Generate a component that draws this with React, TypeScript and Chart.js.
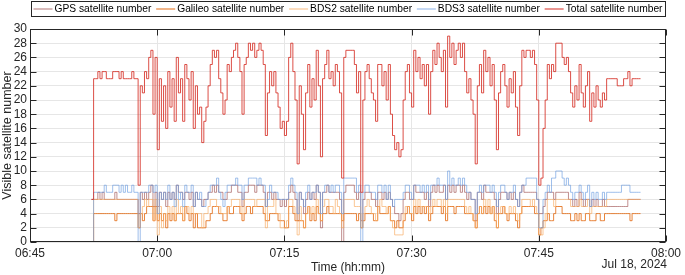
import { useEffect, useRef } from "react";
import { Chart, registerables } from "chart.js";

Chart.register(...registerables);

// ---------------- data ----------------
const SERIES_LABELS = [
  "GPS satellite number",
  "Galileo satellite number",
  "BDS2 satellite number",
  "BDS3 satellite number",
  "Total satellite number",
];
const X_TICK_LABELS = ["06:45", "07:00", "07:15", "07:30", "07:45", "08:00"];
const X_TICK_STEP = 15; // minutes between labels
const X_MAX = 75; // minutes after 06:45
const Y_MAX = 30;
const Y_STEP = 2;
const X_TITLE = "Time (hh:mm)";
const Y_TITLE = "Visible satellite number";
const DATE_LABEL = "Jul 18, 2024";
// samples: minutes after 06:45, every 15 s
const SAMPLE_START = 7.25;
const SAMPLE_STEP = 0.25;

const totalSats = [
  6, 23, 23,
  24, 23, 24, 24, 23, 23, 23, 24, 24, 24, 23, 24, 23, 23, 23, 23, 24, 23, 23, 8,
  22, 21, 24, 23, 26, 27, 18, 26, 13, 23, 17, 22, 16, 24, 19, 23, 17, 26, 21, 23,
  17, 25, 23, 20, 24, 16, 22, 18, 19, 14, 17, 19, 22, 25, 27, 26, 27, 23, 21, 18,
  20, 25, 24, 26, 27, 28, 26, 24, 18, 25, 26, 28, 27, 28, 26, 27, 28, 27, 25, 15,
  21, 24, 22, 24, 21, 19, 16, 17, 15, 17, 26, 28, 24, 20, 11, 22, 18, 13, 21, 25,
  19, 23, 20, 27, 22, 12, 23, 25, 27, 23, 24, 22, 25, 24, 21, 9, 26, 27, 27, 27,
  27, 25, 21, 24, 7, 20, 24, 25, 23, 21, 20, 17, 25, 25, 22, 24, 20, 25, 18, 15,
  13, 14, 12, 13, 20, 24, 25, 21, 19, 27, 24, 26, 23, 25, 22, 25, 18, 24, 27, 25,
  28, 26, 24, 27, 19, 29, 26, 28, 25, 27, 28, 26, 28, 24, 21, 23, 20, 18, 11, 22,
  25, 21, 27, 24, 26, 22, 25, 20, 13, 21, 24, 25, 22, 19, 23, 21, 24, 19, 15, 22,
  27, 26, 27, 27, 26, 27, 25, 20, 8, 9, 16, 20, 25, 23, 25, 24, 28, 28, 28, 26,
  25, 26, 24, 21, 19, 22, 20, 25, 21, 19, 22, 24, 17, 21, 19, 22, 20, 19, 21, 20,
  23, 23, 23, 23, 23, 22, 22, 22, 23, 23, 24, 22, 23, 23, 23, 23,
  23,
];

const gpsSats = [
  6, 6, 6,
  7, 6, 7, 6, 6, 6, 6, 6, 7, 6, 6, 6, 6, 6, 6, 6, 6, 6, 6, 4,
  7, 6, 7, 6, 7, 8, 5, 7, 5, 7, 6, 7, 5, 7, 6, 7, 6, 8, 7, 7,
  6, 7, 7, 6, 7, 5, 7, 6, 6, 5, 6, 6, 7, 7, 8, 7, 8, 7, 7, 6,
  6, 7, 7, 8, 8, 8, 7, 7, 5, 7, 7, 8, 8, 8, 7, 8, 8, 8, 7, 5,
  7, 7, 6, 7, 6, 6, 5, 6, 5, 6, 7, 8, 7, 6, 3, 7, 6, 4, 6, 7,
  6, 7, 6, 8, 7, 2, 7, 7, 8, 7, 7, 7, 7, 7, 6, 0, 7, 8, 8, 8,
  8, 7, 6, 7, 3, 6, 7, 7, 7, 6, 6, 5, 7, 7, 6, 7, 6, 7, 6, 5,
  4, 4, 3, 4, 6, 7, 7, 6, 6, 8, 7, 7, 7, 7, 6, 7, 5, 7, 8, 7,
  8, 7, 7, 8, 6, 8, 7, 8, 7, 8, 8, 7, 8, 7, 6, 7, 6, 6, 3, 7,
  7, 6, 8, 7, 7, 7, 7, 6, 4, 6, 7, 7, 7, 6, 7, 6, 7, 6, 5, 7,
  8, 7, 7, 7, 7, 7, 7, 6, 4, 4, 5, 6, 7, 7, 7, 6, 7, 7, 7, 7,
  7, 7, 6, 6, 5, 6, 5, 7, 6, 5, 6, 6, 5, 6, 5, 6, 5, 5, 6, 5,
  5, 5, 5, 5, 5, 5, 5, 5, 5, 5, 6, 6, 6, 6, 6, 6,
  6,
];

const galileoSats = [
  0, 4, 4,
  4, 4, 4, 4, 4, 4, 4, 4, 3, 4, 4, 4, 4, 4, 4, 4, 4, 4, 4, 2,
  4, 3, 4, 5, 5, 5, 3, 5, 3, 4, 3, 4, 2, 4, 3, 4, 3, 4, 4, 4,
  3, 5, 4, 3, 4, 2, 4, 2, 2, 2, 2, 3, 3, 4, 5, 5, 5, 4, 4, 3,
  3, 5, 4, 4, 5, 5, 5, 4, 3, 4, 5, 5, 4, 5, 5, 5, 5, 5, 4, 3,
  3, 4, 4, 4, 4, 3, 3, 3, 2, 2, 5, 5, 4, 3, 3, 3, 3, 2, 4, 5,
  3, 4, 3, 5, 4, 3, 4, 4, 5, 4, 4, 4, 4, 4, 4, 3, 4, 4, 4, 4,
  4, 4, 3, 4, 2, 3, 4, 4, 4, 4, 3, 3, 5, 4, 4, 4, 4, 5, 3, 3,
  2, 3, 2, 2, 3, 4, 5, 4, 3, 5, 4, 5, 4, 5, 4, 5, 3, 4, 5, 5,
  5, 5, 4, 5, 3, 5, 5, 5, 4, 5, 5, 5, 5, 4, 4, 4, 4, 3, 2, 4,
  5, 4, 5, 4, 5, 4, 5, 3, 2, 4, 4, 5, 4, 3, 4, 4, 4, 3, 2, 4,
  5, 5, 5, 5, 5, 5, 4, 4, 1, 2, 3, 3, 4, 3, 3, 4, 5, 5, 5, 4,
  4, 4, 4, 3, 3, 4, 3, 4, 3, 3, 4, 4, 3, 3, 3, 4, 4, 3, 3, 4,
  4, 4, 4, 4, 4, 4, 4, 4, 4, 4, 4, 3, 4, 4, 4, 4,
  4,
];

const bds2Sats = [
  0, 6, 6,
  6, 6, 6, 6, 6, 6, 6, 6, 6, 6, 6, 6, 6, 6, 6, 6, 6, 6, 6, 2,
  4, 5, 6, 5, 6, 6, 3, 6, 1, 5, 2, 4, 3, 5, 4, 5, 3, 6, 4, 5,
  3, 5, 5, 4, 5, 4, 4, 4, 4, 2, 4, 4, 5, 6, 6, 6, 5, 5, 4, 4,
  4, 5, 5, 6, 6, 6, 6, 5, 4, 6, 6, 6, 6, 6, 5, 6, 6, 6, 6, 2,
  5, 5, 5, 6, 4, 4, 2, 2, 2, 3, 6, 6, 5, 4, 1, 5, 3, 2, 4, 5,
  4, 5, 4, 6, 4, 3, 5, 6, 6, 5, 5, 4, 6, 5, 4, 2, 6, 6, 6, 6,
  6, 5, 5, 5, 2, 4, 5, 6, 5, 4, 4, 3, 5, 6, 5, 5, 4, 5, 3, 2,
  1, 1, 1, 1, 4, 5, 5, 4, 4, 6, 5, 6, 5, 5, 5, 5, 4, 5, 6, 5,
  6, 6, 5, 6, 4, 6, 6, 6, 6, 6, 6, 6, 6, 5, 4, 5, 4, 3, 2, 4,
  5, 4, 6, 5, 6, 4, 5, 4, 2, 4, 5, 5, 4, 4, 5, 4, 5, 4, 3, 4,
  6, 6, 6, 6, 5, 6, 5, 4, 1, 1, 2, 4, 6, 6, 6, 5, 6, 6, 6, 6,
  6, 6, 6, 5, 5, 5, 5, 6, 5, 5, 5, 6, 4, 5, 5, 5, 5, 5, 5, 5,
  6, 6, 6, 6, 6, 6, 6, 6, 6, 6, 6, 6, 6, 6, 6, 6,
  6,
];

const bds3Sats = [
  0, 7, 7,
  7, 7, 7, 8, 7, 7, 7, 8, 8, 8, 7, 8, 7, 8, 7, 7, 8, 7, 7, 0,
  7, 7, 7, 7, 8, 8, 7, 8, 4, 7, 6, 7, 6, 8, 6, 7, 5, 8, 6, 7,
  5, 8, 7, 7, 8, 5, 7, 6, 7, 5, 5, 6, 7, 8, 8, 8, 9, 7, 6, 5,
  7, 8, 8, 8, 8, 9, 8, 8, 6, 8, 8, 9, 9, 9, 9, 8, 9, 8, 8, 5,
  6, 8, 7, 7, 7, 6, 6, 6, 6, 6, 8, 9, 8, 7, 4, 7, 6, 5, 7, 8,
  6, 7, 7, 8, 7, 4, 7, 8, 8, 7, 8, 7, 8, 8, 7, 4, 9, 9, 9, 9,
  9, 9, 7, 8, 0, 7, 8, 8, 7, 7, 7, 6, 8, 8, 7, 8, 6, 8, 6, 5,
  6, 6, 6, 6, 7, 8, 8, 7, 6, 8, 8, 8, 7, 8, 7, 8, 6, 8, 8, 8,
  9, 8, 8, 8, 6, 10, 8, 9, 8, 8, 9, 8, 9, 8, 7, 7, 6, 6, 4, 7,
  8, 7, 8, 8, 8, 7, 8, 7, 5, 7, 8, 8, 7, 6, 7, 7, 8, 6, 5, 7,
  8, 8, 9, 9, 9, 9, 9, 6, 2, 2, 6, 7, 8, 7, 9, 9, 10, 10, 10, 9,
  8, 9, 8, 7, 6, 7, 7, 8, 7, 6, 7, 8, 5, 7, 6, 7, 6, 6, 7, 6,
  7, 7, 7, 7, 7, 7, 7, 8, 8, 8, 8, 7, 7, 7, 7, 7,
  7,
];

const SERIES_VALUES = [gpsSats, galileoSats, bds2Sats, bds3Sats, totalSats];
const SERIES_COLORS = [
  "rgba(155,75,75,0.62)",
  "rgba(228,110,25,0.85)",
  "rgba(248,172,100,0.68)",
  "rgba(110,158,225,0.66)",
  "rgba(212,40,30,0.82)",
];
const SERIES_DRAW_ORDER = [5, 4, 3, 2, 1]; // later series drawn on top

// ---------------- styling ----------------
const FONT = '"Liberation Sans", Arial, Helvetica, sans-serif';
const INK = "#262626";
const GRID = "#e6e6e6";

const framePlugin = {
  id: "frame",
  afterDatasetsDraw(chart: any) {
    const { ctx, chartArea: a, scales } = chart;
    const xs = scales.x;
    const ys = scales.y;
    const L = Math.round(a.left) + 0.5;
    const R = Math.round(a.right) - 0.5;
    const T = Math.round(a.top) + 0.5;
    const B = Math.round(a.bottom) - 0.5;
    const TL = 6;
    ctx.save();
    ctx.strokeStyle = INK;
    ctx.lineWidth = 1;
    ctx.strokeRect(L, T, R - L, B - T);
    ctx.beginPath();
    xs.ticks.forEach((t: any) => {
      const px = Math.round(xs.getPixelForValue(t.value)) + 0.5;
      ctx.moveTo(px, B);
      ctx.lineTo(px, B - TL);
      ctx.moveTo(px, T);
      ctx.lineTo(px, T + TL);
    });
    ys.ticks.forEach((t: any) => {
      const py = Math.round(ys.getPixelForValue(t.value)) + 0.5;
      ctx.moveTo(L, py);
      ctx.lineTo(L + TL, py);
      ctx.moveTo(R, py);
      ctx.lineTo(R - TL, py);
    });
    ctx.stroke();
    ctx.restore();
  },
  afterDraw(chart: any) {
    const { ctx, chartArea: a } = chart;
    ctx.save();
    // date under the last tick
    ctx.font = `12px ${FONT}`;
    ctx.fillStyle = INK;
    ctx.textAlign = "right";
    ctx.textBaseline = "middle";
    ctx.fillText(DATE_LABEL, a.right + 1, 265);

    // legend box
    const boxL = Math.round(a.left) + 1.5;
    const boxR = Math.round(a.right) - 0.5;
    const boxT = 1.5;
    const boxB = 16.5;
    ctx.fillStyle = "#ffffff";
    ctx.fillRect(boxL, boxT, boxR - boxL, boxB - boxT);
    ctx.strokeStyle = INK;
    ctx.lineWidth = 1;
    ctx.strokeRect(boxL, boxT, boxR - boxL, boxB - boxT);

    ctx.font = `10.25px ${FONT}`;
    const ds = chart.data.datasets;
    const widths = ds.map((d: any) => ctx.measureText(d.label).width);
    const lineLen = 19;
    const lineGap = 2;
    const inner = boxR - boxL - 5;
    const used = widths.reduce((s: number, w: number) => s + w, 0) + ds.length * (lineLen + lineGap);
    const gap = (inner - used) / (ds.length - 1);
    let cx = boxL + 2;
    const cy = 9;
    ds.forEach((d: any, i: number) => {
      ctx.strokeStyle = d.borderColor;
      ctx.lineWidth = 1.2;
      ctx.beginPath();
      ctx.moveTo(cx, cy);
      ctx.lineTo(cx + lineLen, cy);
      ctx.stroke();
      ctx.fillStyle = "#000000";
      ctx.textAlign = "left";
      ctx.textBaseline = "middle";
      ctx.fillText(d.label, cx + lineLen + lineGap, cy + 0.5);
      cx += lineLen + lineGap + widths[i] + gap;
    });
    ctx.restore();
  },
};

export default function App() {
  const canvasRef = useRef<HTMLCanvasElement | null>(null);

  useEffect(() => {
    document.body.style.margin = "0";
    const canvas = canvasRef.current;
    if (!canvas) return;

    const datasets = SERIES_LABELS.map((label, i) => ({
      label,
      data: SERIES_VALUES[i].map((v, k) => ({ x: SAMPLE_START + k * SAMPLE_STEP, y: v })),
      borderColor: SERIES_COLORS[i],
      backgroundColor: SERIES_COLORS[i],
      borderWidth: 1,
      stepped: true,
      pointRadius: 0,
      fill: false,
      order: SERIES_DRAW_ORDER[i],
    }));

    const chart = new Chart(canvas, {
      type: "line",
      data: { datasets },
      options: {
        animation: false,
        responsive: false,
        devicePixelRatio: 1,
        parsing: false,
        normalized: true,
        layout: { padding: { top: 29, right: 18, left: 0, bottom: 0 } },
        plugins: {
          legend: { display: false },
          tooltip: { enabled: false },
          title: { display: false },
        },
        scales: {
          x: {
            type: "linear",
            min: 0,
            max: X_MAX,
            ticks: {
              stepSize: X_TICK_STEP,
              autoSkip: false,
              maxRotation: 0,
              padding: 4,
              color: INK,
              font: { family: FONT, size: 12 },
              callback: (v: any) => X_TICK_LABELS[Math.round(Number(v) / X_TICK_STEP)] ?? "",
            },
            grid: { color: GRID, drawTicks: false, lineWidth: 1 },
            border: { display: false },
            title: {
              display: true,
              text: X_TITLE,
              color: INK,
              padding: 0,
              font: { family: FONT, size: 12 },
            },
            afterFit: (s: any) => {
              s.height = 33;
            },
          },
          y: {
            type: "linear",
            min: 0,
            max: Y_MAX,
            ticks: {
              stepSize: Y_STEP,
              autoSkip: false,
              padding: 3,
              color: INK,
              font: { family: FONT, size: 12 },
            },
            grid: { color: GRID, drawTicks: false, lineWidth: 1 },
            border: { display: false },
            title: {
              display: true,
              text: Y_TITLE,
              color: INK,
              padding: 0,
              font: { family: FONT, size: 12.5 },
            },
            afterFit: (s: any) => {
              s.width = 30;
            },
          },
        },
      },
      plugins: [framePlugin],
    } as any);

    return () => chart.destroy();
  }, []);

  return (
    <div style={{ width: 685, height: 275 }}>
      <canvas ref={canvasRef} width={685} height={275} style={{ display: "block" }} />
    </div>
  );
}
